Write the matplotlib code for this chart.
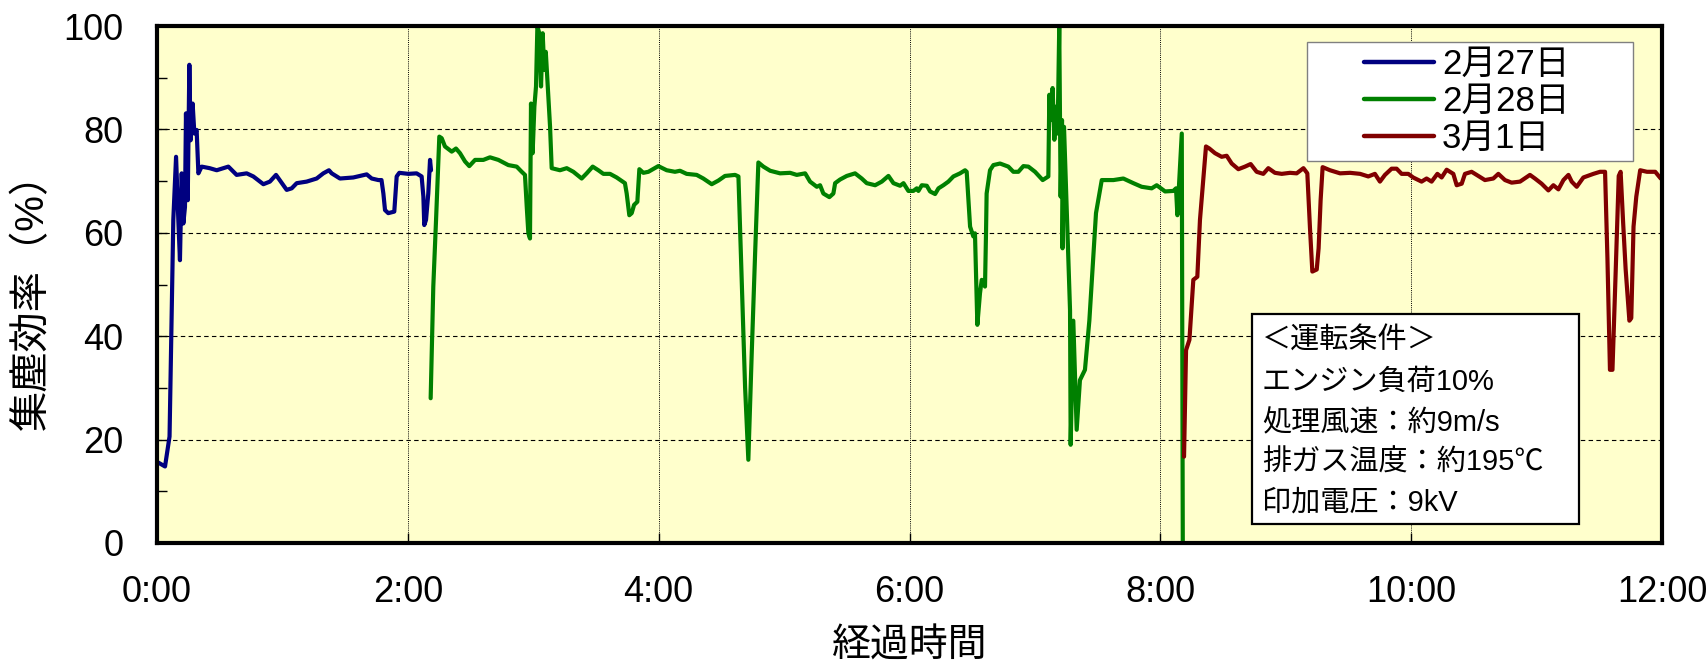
import matplotlib
matplotlib.use("Agg")
import matplotlib.pyplot as plt
from matplotlib.patches import Rectangle
from matplotlib.ticker import MultipleLocator

# ---------------- data (hours elapsed, collection efficiency %) ----------------
t_0227 = [0.0, 0.064, 0.10, 0.13, 0.152, 0.17, 0.183, 0.197, 0.21, 0.223, 0.231, 0.245,
          0.258, 0.268, 0.284, 0.298, 0.316, 0.33, 0.356, 0.42, 0.476, 0.569, 0.635, 0.715,
          0.768, 0.848, 0.90, 0.949, 1.034, 1.074, 1.114, 1.193, 1.273, 1.326, 1.371, 1.393,
          1.459, 1.565, 1.672, 1.712, 1.765, 1.79, 1.805, 1.818, 1.844, 1.892, 1.911, 1.932,
          2.004, 2.07, 2.11, 2.124, 2.131, 2.145, 2.163, 2.177, 2.185]
eff_0227 = [15.7, 14.8, 20.6, 62.5, 74.7, 62.5, 54.7, 71.5, 61.8, 65.0, 83.1, 66.3,
            92.5, 77.9, 85.0, 79.2, 79.9, 71.5, 72.8, 72.5, 72.1, 72.8, 71.2, 71.5,
            70.9, 69.4, 69.9, 71.2, 68.3, 68.6, 69.6, 69.9, 70.5, 71.5, 72.1, 71.5,
            70.5, 70.7, 71.3, 70.5, 70.2, 70.2, 67.6, 64.4, 63.8, 64.1, 70.9, 71.6,
            71.4, 71.5, 70.9, 67.0, 61.5, 62.5, 67.6, 74.1, 72.1]

t_0228 = [2.182, 2.203, 2.225, 2.251, 2.27, 2.296, 2.35, 2.384, 2.416, 2.456, 2.49, 2.536,
          2.602, 2.655, 2.722, 2.801, 2.868, 2.908, 2.934, 2.948, 2.961, 2.974, 2.982, 2.995,
          3.009, 3.022, 3.033, 3.048, 3.062, 3.075, 3.088, 3.10, 3.134, 3.147, 3.213, 3.267,
          3.32, 3.386, 3.426, 3.474, 3.519, 3.559, 3.612, 3.665, 3.731, 3.745, 3.766, 3.785,
          3.804, 3.83, 3.846, 3.878, 3.918, 3.997, 4.064, 4.13, 4.17, 4.223, 4.303, 4.356,
          4.423, 4.476, 4.529, 4.609, 4.636, 4.662, 4.689, 4.715, 4.742, 4.769, 4.795, 4.835,
          4.889, 4.968, 5.048, 5.101, 5.168, 5.207, 5.261, 5.287, 5.313, 5.361, 5.393, 5.407,
          5.446, 5.5, 5.566, 5.619, 5.659, 5.726, 5.779, 5.832, 5.872, 5.925, 5.952, 5.991,
          6.031, 6.058, 6.071, 6.098, 6.138, 6.164, 6.204, 6.231, 6.27, 6.31, 6.35, 6.403,
          6.443, 6.456, 6.483, 6.509, 6.522, 6.541, 6.562, 6.576, 6.602, 6.61, 6.615, 6.642,
          6.669, 6.722, 6.788, 6.828, 6.868, 6.908, 6.948, 7.001, 7.062, 7.107, 7.115, 7.12,
          7.133, 7.141, 7.155, 7.168, 7.181, 7.194, 7.205, 7.216, 7.22, 7.232, 7.28, 7.285,
          7.306, 7.333, 7.359, 7.399, 7.434, 7.487, 7.533, 7.626, 7.705, 7.785, 7.851, 7.931,
          7.971, 8.038, 8.104, 8.125, 8.136, 8.147, 8.171, 8.179]
eff_0228 = [28.0, 49.6, 62.5, 78.6, 78.3, 76.7, 75.7, 76.3, 75.4, 73.8, 72.9, 74.1,
            74.1, 74.6, 74.1, 73.1, 72.8, 71.8, 71.2, 65.1, 59.9, 58.9, 85.0, 75.4,
            84.4, 88.3, 100.0, 98.6, 88.3, 98.6, 91.5, 95.0, 80.5, 72.5, 72.1, 72.5,
            71.8, 70.5, 71.5, 72.8, 72.1, 71.4, 71.4, 70.7, 69.6, 67.6, 63.4, 63.8,
            65.4, 66.0, 72.3, 71.6, 71.8, 72.9, 72.1, 71.8, 72.0, 71.4, 71.2, 70.5,
            69.4, 70.1, 71.0, 71.2, 70.9, 50.9, 30.2, 16.1, 36.7, 56.0, 73.6, 72.8,
            72.0, 71.5, 71.6, 71.2, 71.5, 69.9, 68.9, 69.2, 67.6, 66.9, 67.6, 69.6,
            70.3, 71.0, 71.5, 70.5, 69.6, 69.2, 69.9, 71.0, 69.6, 69.1, 69.6, 68.1,
            68.1, 68.6, 68.1, 69.2, 69.1, 68.0, 67.5, 68.6, 69.2, 69.9, 70.9, 71.5,
            72.1, 71.8, 61.2, 59.3, 59.9, 42.2, 48.3, 50.9, 49.6, 59.9, 67.6, 72.1,
            73.1, 73.4, 72.8, 71.8, 71.8, 72.9, 72.8, 71.8, 70.2, 70.9, 86.7, 82.5,
            81.8, 88.0, 78.0, 84.4, 79.2, 100.0, 67.0, 81.8, 57.0, 80.5, 45.0, 19.0,
            43.0, 21.9, 31.5, 33.5, 43.0, 63.8, 70.2, 70.2, 70.5, 69.6, 68.9, 68.6,
            69.2, 68.0, 68.1, 68.6, 63.4, 68.3, 79.2, 0.0]

t_0301 = [8.189, 8.205, 8.232, 8.263, 8.295, 8.316, 8.364, 8.391, 8.436, 8.489, 8.529, 8.569,
          8.622, 8.675, 8.72, 8.768, 8.821, 8.861, 8.914, 8.968, 9.034, 9.087, 9.141, 9.172,
          9.193, 9.212, 9.247, 9.262, 9.278, 9.294, 9.353, 9.433, 9.513, 9.593, 9.658, 9.711,
          9.751, 9.791, 9.844, 9.884, 9.924, 9.977, 10.016, 10.083, 10.123, 10.163, 10.209,
          10.243, 10.283, 10.336, 10.363, 10.403, 10.429, 10.482, 10.522, 10.588, 10.655,
          10.695, 10.748, 10.801, 10.868, 10.947, 10.987, 11.04, 11.094, 11.134, 11.174,
          11.214, 11.254, 11.28, 11.32, 11.373, 11.453, 11.506, 11.546, 11.565, 11.585,
          11.605, 11.63, 11.655, 11.67, 11.69, 11.71, 11.74, 11.755, 11.773, 11.795, 11.826,
          11.88, 11.946, 11.99, 12.0]
eff_0301 = [16.7, 37.3, 39.3, 50.9, 51.5, 62.5, 76.7, 76.3, 75.4, 74.7, 74.9, 73.4,
            72.3, 72.8, 73.3, 71.8, 71.4, 72.5, 71.6, 71.4, 71.6, 71.5, 72.5, 71.5,
            61.0, 52.5, 52.9, 57.0, 66.3, 72.7, 72.1, 71.5, 71.6, 71.4, 70.9, 71.4,
            69.9, 71.2, 72.4, 72.4, 71.4, 71.4, 70.7, 69.9, 70.5, 69.9, 71.4,
            70.7, 72.2, 71.4, 69.2, 69.5, 71.4, 71.8, 71.2, 70.2, 70.5,
            71.4, 70.2, 69.7, 69.9, 71.2, 70.5, 69.5, 68.2, 69.2, 68.4,
            70.2, 71.2, 69.9, 68.9, 70.7, 71.4, 71.8, 71.8, 55.0, 33.5,
            33.5, 52.0, 71.0, 71.8, 62.0, 53.0, 43.0, 43.5, 61.2, 67.0, 72.1,
            71.8, 71.8, 70.5, 70.8]

series_labels = ["2月27日", "2月28日", "3月1日"]
series_colors = ["#000080", "#008000", "#800000"]

xtick_pos = [0, 2, 4, 6, 8, 10, 12]
xtick_labels = ["0:00", "2:00", "4:00", "6:00", "8:00", "10:00", "12:00"]
ytick_pos = [0, 20, 40, 60, 80, 100]

xlabel = "経過時間"
ylabel = "集塵効率（%）"
cond_lines = ["＜運転条件＞", "エンジン負荷10%", "処理風速：約9m/s",
              "排ガス温度：約195℃", "印加電圧：9kV"]

# ---------------- figure ----------------
plt.rcParams['font.family'] = ['Liberation Sans', 'Noto Sans CJK JP']
plt.rcParams['axes.unicode_minus'] = False

W, H = 1707, 668
fig = plt.figure(figsize=(W / 100, H / 100), dpi=100)
ax = fig.add_axes([157 / W, 1 - 543 / H, 1505 / W, 517 / H])
ax.set_facecolor("#FFFFCC")

def ax_x(px):
    return (px - 157) / 1505

def ax_y(py):
    return (543 - py) / 517

lines = []
for tt, vv, lab, col in zip([t_0227, t_0228, t_0301], [eff_0227, eff_0228, eff_0301],
                            series_labels, series_colors):
    ln, = ax.plot(tt, vv, color=col, lw=3.0, label=lab, zorder=3,
                  solid_joinstyle='round', solid_capstyle='round')
    lines.append(ln)

ax.set_xlim(0, 12)
ax.set_ylim(0, 100)
ax.set_xticks(xtick_pos)
ax.set_xticklabels(xtick_labels)
ax.set_yticks(ytick_pos)
ax.yaxis.set_minor_locator(MultipleLocator(10))

ax.tick_params(axis='both', which='major', direction='in', length=7, width=1,
               labelsize=26, color='black')
ax.tick_params(axis='y', which='major', pad=24)
ax.tick_params(axis='x', which='major', pad=23)
ax.tick_params(axis='y', which='minor', direction='in', length=7, width=1)

ax.grid(axis='y', which='major', color='black', lw=0.8, linestyle=(0, (4, 3)), zorder=1)
ax.grid(axis='x', which='major', color='black', lw=0.7, linestyle=(0, (1, 1.2)), zorder=1)
ax.set_axisbelow(True)

for sp in ax.spines.values():
    sp.set_linewidth(3)
    sp.set_color('black')
    sp.set_zorder(5)

ax.set_xlabel(xlabel, fontsize=28)
ax.xaxis.label.set_va('center')
ax.xaxis.set_label_coords(0.5, ax_y(647))
ax.set_ylabel(ylabel, fontsize=29)
ax.yaxis.label.set_va('center')
ax.yaxis.set_label_coords(ax_x(32), ax_y(291))

# legend frame + centred legend content
lx0, lx1, ly0, ly1 = 1307, 1633, 161, 42
ax.add_patch(Rectangle((ax_x(lx0), ax_y(ly0)), ax_x(lx1) - ax_x(lx0), ax_y(ly1) - ax_y(ly0),
                       transform=ax.transAxes, facecolor='white', edgecolor='#808080',
                       lw=1.0, zorder=6))
leg = ax.legend(handles=lines, labels=series_labels, loc='center',
                bbox_to_anchor=(ax_x(1467), ax_y(101.5)),
                borderaxespad=0, fontsize=25, frameon=False,
                handlelength=2.0, handletextpad=0.23, labelspacing=0.12, borderpad=0.0)
for hl in leg.get_lines():
    hl.set_linewidth(3.2)
leg.set_zorder(7)

# condition box
bx0, bx1 = ax_x(1252), ax_x(1579)
by0, by1 = ax_y(524), ax_y(314)
ax.add_patch(Rectangle((bx0, by0), bx1 - bx0, by1 - by0, transform=ax.transAxes,
                       facecolor='white', edgecolor='black', lw=1.6, zorder=6))
row_y = [340, 382, 423, 463, 503]
for txt, ry in zip(cond_lines, row_y):
    ax.text(ax_x(1262), ax_y(ry), txt, transform=ax.transAxes,
            fontsize=21, ha='left', va='center', zorder=7)

fig.savefig("out.png", dpi=100)
